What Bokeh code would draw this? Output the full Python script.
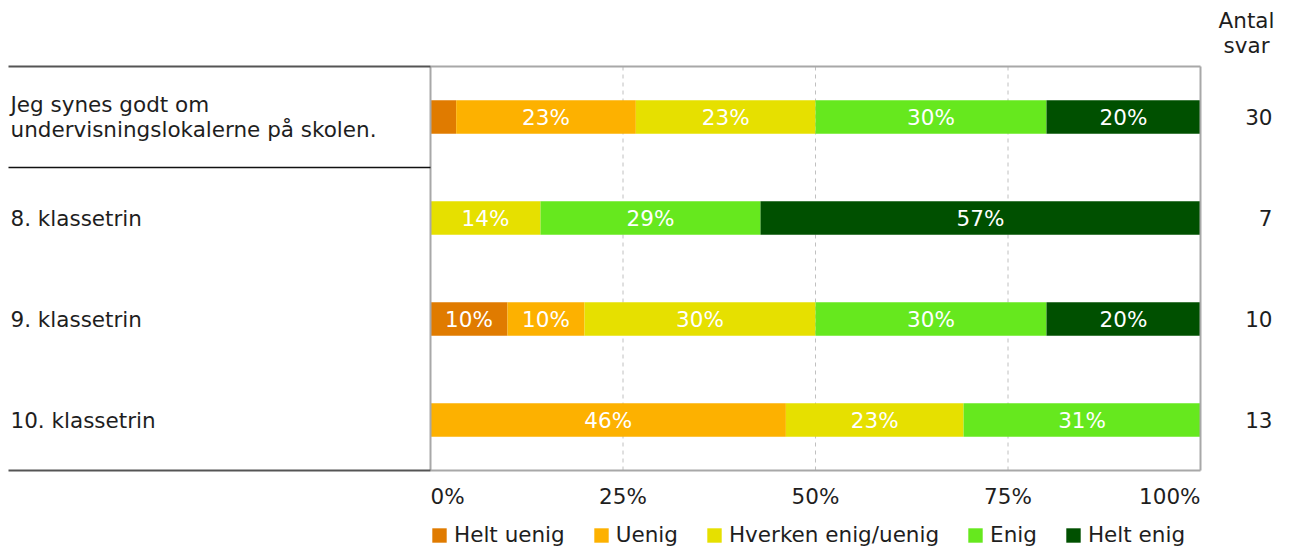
from bokeh.plotting import figure
from bokeh.models import ColumnDataSource, Range1d
from bokeh.core.properties import value
from bokeh.embed import file_html
from bokeh.resources import INLINE

# ---- data ----
questions = ["Jeg synes godt om\nundervisningslokalerne på skolen.",
             "8. klassetrin", "9. klassetrin", "10. klassetrin"]
categories = ["Helt uenig", "Uenig", "Hverken enig/uenig", "Enig", "Helt enig"]
colors = ["#E07B00", "#FDB100", "#E6E000", "#66E81E", "#005000"]
helt_uenig = [1, 0, 1, 0]
uenig = [7, 0, 1, 6]
hverken = [7, 1, 3, 3]
enig = [9, 2, 3, 4]
helt_enig = [6, 4, 2, 0]
antal_svar = [30, 7, 10, 13]
tick_values = [0, 25, 50, 75, 100]
tick_labels = ["0%", "25%", "50%", "75%", "100%"]
header = "Antal\nsvar"

FONT = "DejaVu Sans"
FS = "21.5px"
TXT = "#1e1e1e"

series = [helt_uenig, uenig, hverken, enig, helt_enig]
ypos = [4, 3, 2, 1]
keys = ["k0", "k1", "k2", "k3", "k4"]
data = {"y": ypos}
for k, s in zip(keys, series):
    data[k] = [100.0 * v / n for v, n in zip(s, antal_svar)]
source = ColumnDataSource(data)

# segment labels
lx, ly, lt = [], [], []
for i, y in enumerate(ypos):
    left = 0.0
    for k in keys:
        w = data[k][i]
        if w >= 5:
            lx.append(left + w / 2)
            ly.append(y)
            lt.append(f"{round(w)}%")
        left += w

# screen mapping helpers (px per data unit)
SX, SY = 7.7, 101.0
X0, Y0 = 430, 470  # pixel of x=0 and y=0.5

W, H = 1280, 548
p = figure(width=W, height=H, output_backend="svg", toolbar_location=None,
           x_axis_type=None, y_axis_type=None, min_border=0,
           x_range=Range1d(-X0 / SX, (W - X0) / SX),
           y_range=Range1d(0.5 - (H - Y0) / SY, 0.5 + Y0 / SY))
p.outline_line_color = None
p.xgrid.visible = False
p.ygrid.visible = False

# grid lines
p.segment(x0=[25, 50, 75], x1=[25, 50, 75], y0=0.5, y1=4.5,
          line_color="#c0c0c0", line_width=1, line_dash="4 4")

rs = p.hbar_stack(keys, y="y", height=0.33, source=source, color=colors,
                  line_color=None, legend_label=categories)

p.text(x=lx, y=ly, text=lt, text_color="white", text_font=value(FONT),
       text_font_size=FS, text_align="center", text_baseline="middle")

# frame of plot area
p.segment(x0=[0, 100, 0, 0], x1=[0, 100, 100, 100], y0=[0.5, 0.5, 4.5, 0.5],
          y1=[4.5, 4.5, 4.5, 0.5], line_color="#a8a8a8", line_width=2)
# left table lines
xl = (8 - X0) / SX
p.segment(x0=[xl, xl], x1=[0, 0], y0=[4.5, 0.5], y1=[4.5, 0.5],
          line_color="#555555", line_width=2)
p.segment(x0=[xl], x1=[0], y0=[3.5], y1=[3.5], line_color="#111111", line_width=1.5)

# question labels
p.text(x=[(10 - X0) / SX] * 4, y=ypos, text=questions, text_color=TXT,
       text_font=value(FONT), text_font_size=FS, text_align="left",
       text_baseline="middle", text_line_height=1.0)

# tick labels
aligns = ["left", "center", "center", "center", "right"]
for tv, tl, al in zip(tick_values, tick_labels, aligns):
    p.text(x=[tv], y=[0.5 - 26 / SY], text=[tl], text_color=TXT,
           text_font=value(FONT), text_font_size=FS, text_align=al,
           text_baseline="middle")

# counts
p.text(x=[(1272 - X0) / SX] * 4, y=ypos, text=[str(n) for n in antal_svar],
       text_color=TXT, text_font=value(FONT), text_font_size=FS,
       text_align="right", text_baseline="middle")
p.text(x=[(1246 - X0) / SX], y=[0.5 + (Y0 - 32) / SY], text=[header],
       text_color=TXT, text_font=value(FONT), text_font_size=FS,
       text_align="center", text_baseline="middle", text_line_height=1.0)

lg = p.legend[0]
lg.orientation = "horizontal"
lg.location = (X0, 1)
lg.margin = 0
lg.padding = 0
lg.spacing = 27
lg.glyph_width = 18
lg.glyph_height = 18
lg.label_standoff = 6
lg.label_text_font = FONT
lg.label_text_font_size = FS
lg.label_text_color = TXT
lg.border_line_alpha = 0
lg.background_fill_alpha = 0

open("out.html", "w").write(file_html(p, INLINE))
